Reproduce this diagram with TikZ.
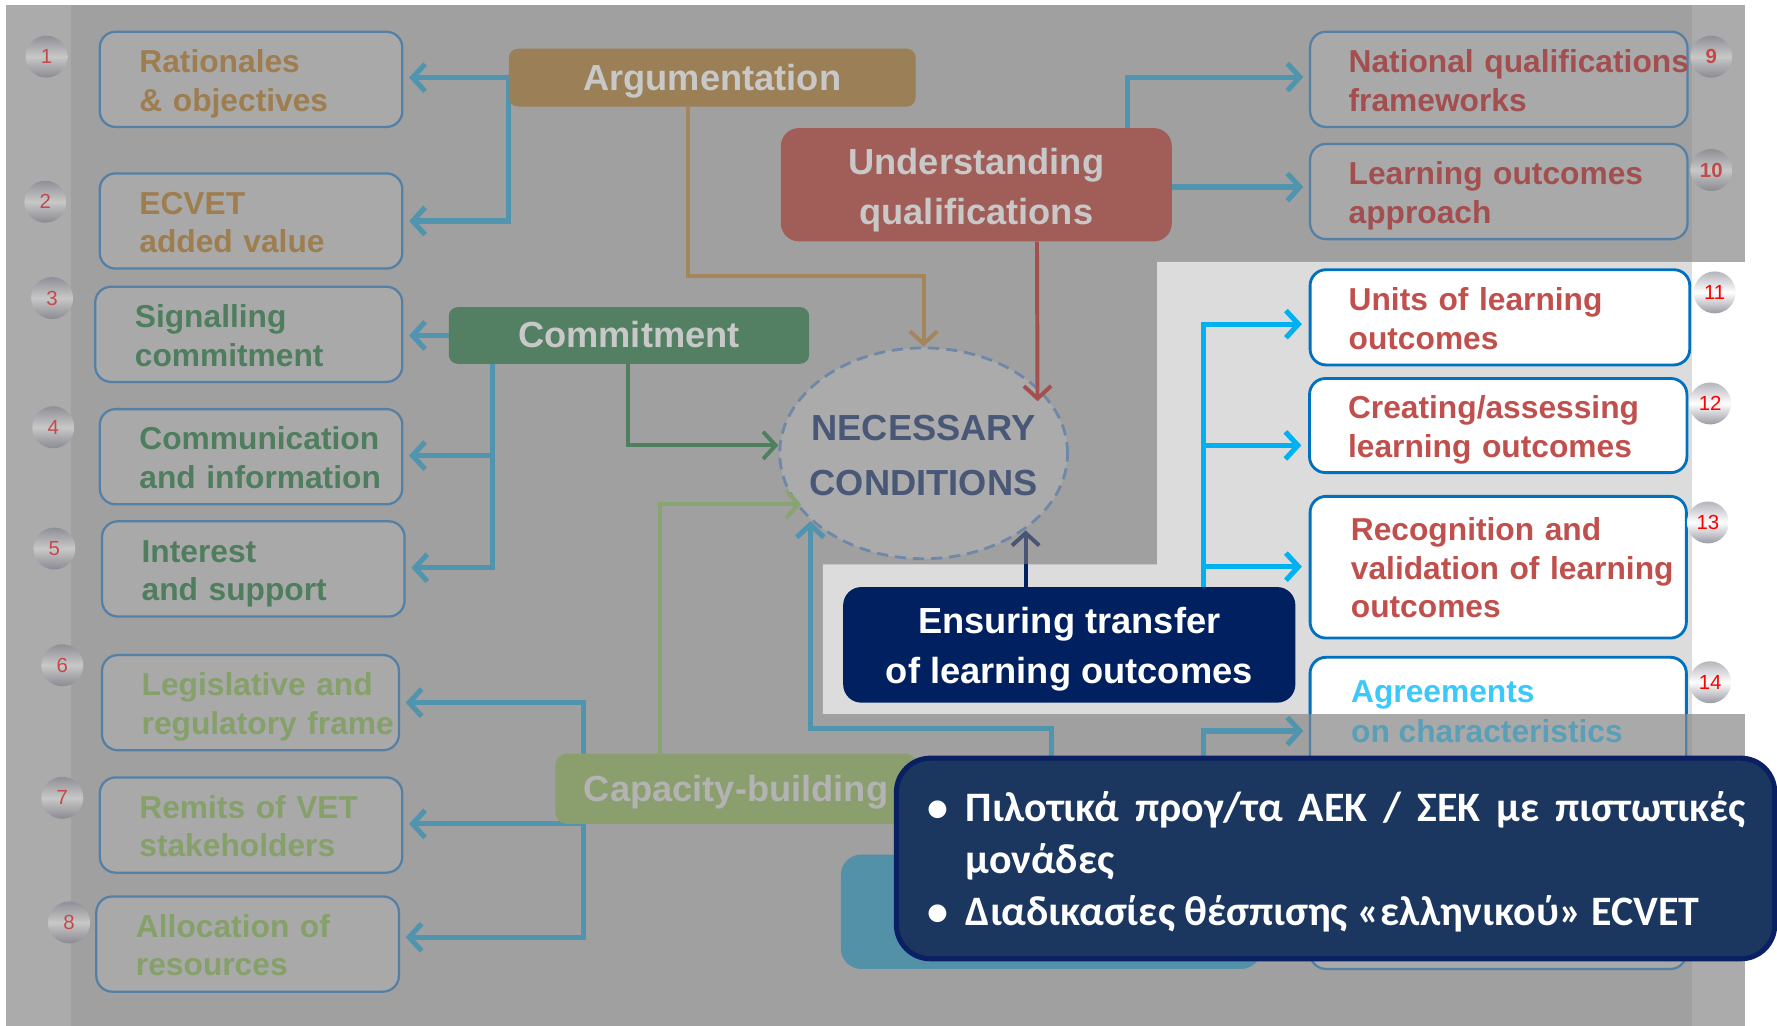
\documentclass[tikz,border=0pt]{standalone}
\usepackage{fontspec}
\setmainfont{Liberation Sans}
\newfontfamily\grk{Carlito}
\usetikzlibrary{arrows.meta,calc,shapes.geometric}
\newcommand\twol[1]{\begin{tabular}[t]{@{}l@{}}#1\end{tabular}}
\newcommand\twoc[1]{\begin{tabular}[t]{@{}c@{}}#1\end{tabular}}
\definecolor{bgmain}{HTML}{A0A0A0}
\definecolor{bgside}{HTML}{ABABAB}
\definecolor{holefill}{HTML}{DCDCDC}
\definecolor{goldtxt}{HTML}{9E7D4F}
\definecolor{greentxt}{HTML}{4E7E5E}
\definecolor{lgreentxt}{HTML}{86A06A}
\definecolor{redtxt}{HTML}{A34F4F}
\definecolor{dimborder}{HTML}{5580A6}
\definecolor{dimfill}{HTML}{A9A9A9}
\definecolor{dimline}{HTML}{5094AE}
\definecolor{goldline}{HTML}{A5865A}
\definecolor{redline}{HTML}{A3514F}
\definecolor{greenline}{HTML}{4E8060}
\definecolor{lgreenline}{HTML}{88A470}
\definecolor{argfill}{HTML}{9B7F56}
\definecolor{undfill}{HTML}{A15D58}
\definecolor{comfill}{HTML}{537F62}
\definecolor{capfill}{HTML}{8A9E6E}
\definecolor{pilltxt}{HTML}{C8C8C8}
\definecolor{captxt}{HTML}{B3B3B3}
\definecolor{ncfill}{HTML}{ABABAB}
\definecolor{ncborder}{HTML}{7088A8}
\definecolor{nctxt}{HTML}{4A5878}
\definecolor{tealfill}{HTML}{5391A9}
\definecolor{brightborder}{HTML}{0070C0}
\definecolor{brighttxt}{HTML}{C0504D}
\definecolor{cyanline}{HTML}{00B0F0}
\definecolor{agreecol}{HTML}{3CC8F8}
\definecolor{dimcyan}{HTML}{5A9FB8}
\definecolor{navy}{HTML}{002060}
\definecolor{navyline}{HTML}{4A5575}
\definecolor{callfill}{HTML}{1B365F}
\definecolor{callborder}{HTML}{0B2063}
\definecolor{badgenum}{HTML}{C44A4A}
\definecolor{badgetop}{HTML}{8F8F97}
\definecolor{badgemid}{HTML}{C8C8C8}
\definecolor{badgebot}{HTML}{8A8A92}
\definecolor{bbadgetop}{HTML}{B4B4BC}
\definecolor{bbadgebot}{HTML}{9A9AA4}
\pgfdeclarelayer{back}
\pgfdeclarelayer{lines}
\pgfsetlayers{back,lines,main}
\begin{document}
\begin{tikzpicture}[x=1pt,y=-1pt,
  boxtext/.style={font=\fontsize{28}{34}\selectfont\bfseries},
  dimbox/.style={boxtext, draw=dimborder, fill=dimfill, line width=2pt, rounded corners=14pt,
    inner xsep=35pt, inner ysep=0pt, align=left, minimum height=84pt, text height=28pt, text depth=40pt},
  rbox/.style={dimbox, inner xsep=34pt, text width=265pt},
  brightbox/.style={rbox, draw=brightborder, fill=white, line width=2.5pt, text=brighttxt},
  pillar/.style={inner sep=0pt, align=center, font=\fontsize{32}{44}\selectfont\bfseries},
  badge/.style={circle, minimum size=37pt, inner sep=0pt, top color=badgetop, bottom color=badgebot,
    middle color=badgemid, text=badgenum, font=\fontsize{18}{18}\selectfont},
  bbadge/.style={badge, top color=bbadgetop, bottom color=bbadgebot, middle color=white, text=red},
  tipstyle/.style={-{Straight Barb[length=11pt,width=24pt]}},
  dimarr/.style={draw=dimline, line width=4.5pt, tipstyle, shorten >=5pt},
  cyanarr/.style={draw=cyanline, line width=4.5pt, tipstyle, shorten >=6pt},
  ncarr/.style={line width=3.5pt, tipstyle}
]
\useasboundingbox (0,0) rectangle (1568,905);
\begin{pgfonlayer}{back}
\fill[white] (0,0) rectangle (1568,905);
\fill[bgmain] (5,4) rectangle (1540,905);
\fill[bgside] (5,4) rectangle (63,905);
\fill[bgside] (1493,4) rectangle (1540,905);
\fill[holefill] (726,498) -- (1021,498) -- (1021,231) -- (1493,231) -- (1493,630) -- (726,630) -- cycle;
\fill[white] (1493,231) rectangle (1540,630);
\end{pgfonlayer}

% central pillars
\node[pillar, fill=argfill, rounded corners=8pt, minimum width=359pt, minimum height=51pt, text=pilltxt, text height=22pt, text depth=0pt] (arg) at (628.5,68.5) {Argumentation};
\node[pillar, fill=undfill, rounded corners=16pt, minimum width=345pt, minimum height=100pt, text=pilltxt, text height=35pt, text depth=53pt] (und) at (861.5,163) {\twoc{Understanding\\qualifications}};
\node[pillar, fill=comfill, rounded corners=8pt, minimum width=318pt, minimum height=50pt, text=pilltxt, text height=22pt, text depth=0pt] (com) at (555,296) {Commitment};
\node[pillar, fill=capfill, rounded corners=10pt, minimum width=319pt, minimum height=62pt, text=captxt, text height=22pt, text depth=0pt] (cap) at (649.5,696) {Capacity-building};
\node[pillar, fill=navy, rounded corners=16pt, minimum width=399pt, minimum height=102pt, text=white, text height=34pt, text depth=54pt] (ens) at (943.5,569) {\twoc{Ensuring transfer\\of learning outcomes}};
\node[pillar, fill=tealfill, rounded corners=18pt, minimum width=371pt, minimum height=101pt] (teal) at (927.5,804.5) {};
\node[ellipse, draw=ncborder, fill=ncfill, line width=2.5pt, dash pattern=on 10pt off 6pt,
  minimum width=254pt, minimum height=186pt, inner sep=0pt] (nc) at (815,400) {};
\node[pillar, text=nctxt, font=\fontsize{32}{48}\selectfont\bfseries, text height=37pt, text depth=59pt] (nctext) at (nc.center) {\twoc{NECESSARY\\CONDITIONS}};

% left boxes
\node[dimbox, text width=197pt, text=goldtxt] (b1) at (221.5,70) {\twol{Rationales\\\& objectives}};
\node[dimbox, text width=197pt, text=goldtxt] (b2) at (221.5,195) {\twol{ECVET\\added value}};
\node[dimbox, text width=201pt, text=greentxt] (b3) at (219.5,295) {\twol{Signalling\\commitment}};
\node[dimbox, text width=197pt, text=greentxt] (b4) at (221.5,403) {\twol{Communication\\and information}};
\node[dimbox, text width=197pt, text=greentxt] (b5) at (223.5,502) {\twol{Interest\\and support}};
\node[dimbox, text width=192pt, text=lgreentxt] (b6) at (221,620) {\twol{Legislative and\\regulatory frame}};
\node[dimbox, text width=197pt, text=lgreentxt] (b7) at (221.5,728) {\twol{Remits of VET\\stakeholders}};
\node[dimbox, text width=197pt, text=lgreentxt] (b8) at (218.5,833) {\twol{Allocation of\\resources}};

% right boxes
\node[rbox, text=redtxt] (b9) at (1322.5,70) {\twol{National qualifications\\frameworks}};
\node[rbox, text=redtxt] (b10) at (1322.5,169) {\twol{Learning outcomes\\approach}};
\node[brightbox, text width=267pt] (b11) at (1323.5,280) {\twol{Units of learning\\outcomes}};
\node[brightbox, minimum height=83pt] (b12) at (1322,375.5) {\twol{Creating/assessing\\learning outcomes}};
\node[brightbox, minimum height=125pt, inner xsep=36pt, text width=260pt, text height=27.5pt, text depth=74.5pt] (b13) at (1322,500.5) {\twol{Recognition and\\validation of learning\\outcomes}};
\node[rbox, minimum height=275pt, text width=264pt, text height=0pt, text depth=0pt] (b14) at (1322,717.5) {};
\begin{scope}
\clip (1100,560) rectangle (1500,630);
\node[brightbox, minimum height=275pt, text width=264pt, text height=0pt, text depth=0pt] (b14b) at (1322,717.5) {};
\end{scope}
\node[boxtext, anchor=base west, inner sep=0pt, text=agreecol] (t14a) at (1192,620) {Agreements};
\node[boxtext, anchor=base west, inner sep=0pt, text=dimcyan] (t14b) at (1192,655) {on characteristics};
\node[boxtext, anchor=base west, inner sep=0pt, text=dimcyan] (t14c) at (1192,690) {of mobility};

% badges
\node[badge] (n1) at (41,50) {1};
\node[badge] (n2) at (40,178) {2};
\node[badge] (n3) at (46,263) {3};
\node[badge] (n4) at (47,377) {4};
\node[badge] (n5) at (48,484) {5};
\node[badge] (n6) at (55,587) {6};
\node[badge] (n7) at (55,704) {7};
\node[badge] (n8) at (61,814) {8};
\node[badge, font=\fontsize{18}{18}\selectfont\bfseries] (n9) at (1510,50) {9};
\node[badge, font=\fontsize{18}{18}\selectfont\bfseries] (n10) at (1510,150) {10};
\node[bbadge] (n11) at (1513,258) {11};
\node[bbadge] (n12) at (1509,356) {12};
\node[bbadge] (n13) at (1507,461) {13};
\node[bbadge] (n14) at (1509,602) {14};

% connectors to the boxes (under the nodes)
\begin{pgfonlayer}{lines}
\draw[dimarr] (arg.west) -- (arg.west -| b1.east);
\draw[dimarr] (arg.west) |- ($(b2.east)+(0,0)$);
\draw[dimarr] ($(und.north)+(133.5,0)$) |- ($(b9.west)+(0,-2)$);
\draw[dimarr] ($(und.east)+(0,2)$) -- ($(b10.west)+(0,-4)$);
\draw[dimarr] (com.west) -- (com.west -| b3.east);
\draw[dimarr] ($(com.south west)+(39,0)$) |- ($(b4.east)+(0,-1)$);
\draw[dimarr] ($(com.south west)+(39,0)$) |- ($(b5.east)+(0,-1)$);
\draw[dimarr] ($(cap.west)+(25,0)$) |- (b6.east);
\draw[dimarr] ($(cap.west)+(25,0)$) |- ($(b7.east)+(0,-1)$);
\draw[dimarr] ($(cap.west)+(25,0)$) |- ($(b8.east)+(0,-6)$);
\draw[dimarr] ($(teal.north)+(134.5,0)$) |- ($(b14.west)+(0,-72.5)$);
\draw[cyanarr] ($(ens.north)+(118.5,0)$) |- ($(b11.west)+(0,6)$);
\draw[cyanarr] ($(ens.north)+(118.5,0)$) |- ($(b12.west)+(0,17.5)$);
\draw[cyanarr] ($(ens.north)+(118.5,0)$) |- ($(b13.west)+(0,-0.5)$);
\end{pgfonlayer}

% connectors into NECESSARY CONDITIONS (over the ellipse)
\draw[ncarr, draw=goldline] ($(arg.south)+(-21.5,0)$) -- ++(0,149) -| (nc.north);
\draw[ncarr, draw=redline] ($(und.south)+(53.5,0)$) -- ($(nc.center)+(100.5,-46)$);
\draw[ncarr, draw=greenline] ($(com.south)+(-1,0)$) |- ($(nc.west)+(0,-7)$);
\draw[ncarr, draw=lgreenline] ($(cap.north)+(-67.5,0)$) |- ($(nc.center)+(-108,45)$);
\draw[dimarr, shorten >=0pt] ($(teal.north)+(0.5,0)$) -- ++(0,-111) -| ($(nc.center)+(-100,60)$);
\draw[ncarr, draw=navyline] ($(ens.north)+(-38.5,0)$) -- ($(nc.center)+(90,68)$);
\begin{scope}
\clip (726,498) rectangle (1021,520);
\draw[ncarr, draw=navy] ($(ens.north)+(-38.5,0)$) -- ($(nc.center)+(90,68)$);
\end{scope}

% callout
\node[draw=callborder, fill=callfill, line width=4.5pt, rounded corners=30pt,
  minimum width=775pt, minimum height=177pt] (cbox) at (1178.5,757.5) {};
\node[font=\grk\bfseries\fontsize{37}{46}\selectfont, text=white, inner sep=0pt, anchor=base west] (ctext) at (818,725)
  {\begin{tabular}[t]{@{}l@{}l@{}}
   \makebox[34pt][l]{•} & \makebox[688pt][s]{Πιλοτικά προγ/τα ΑΕΚ / ΣΕΚ με πιστωτικές}\\
   & μονάδες\\
   \makebox[34pt][l]{•} & Διαδικασίες θέσπισης «ελληνικού» ECVET
   \end{tabular}};
\end{tikzpicture}
\end{document}
